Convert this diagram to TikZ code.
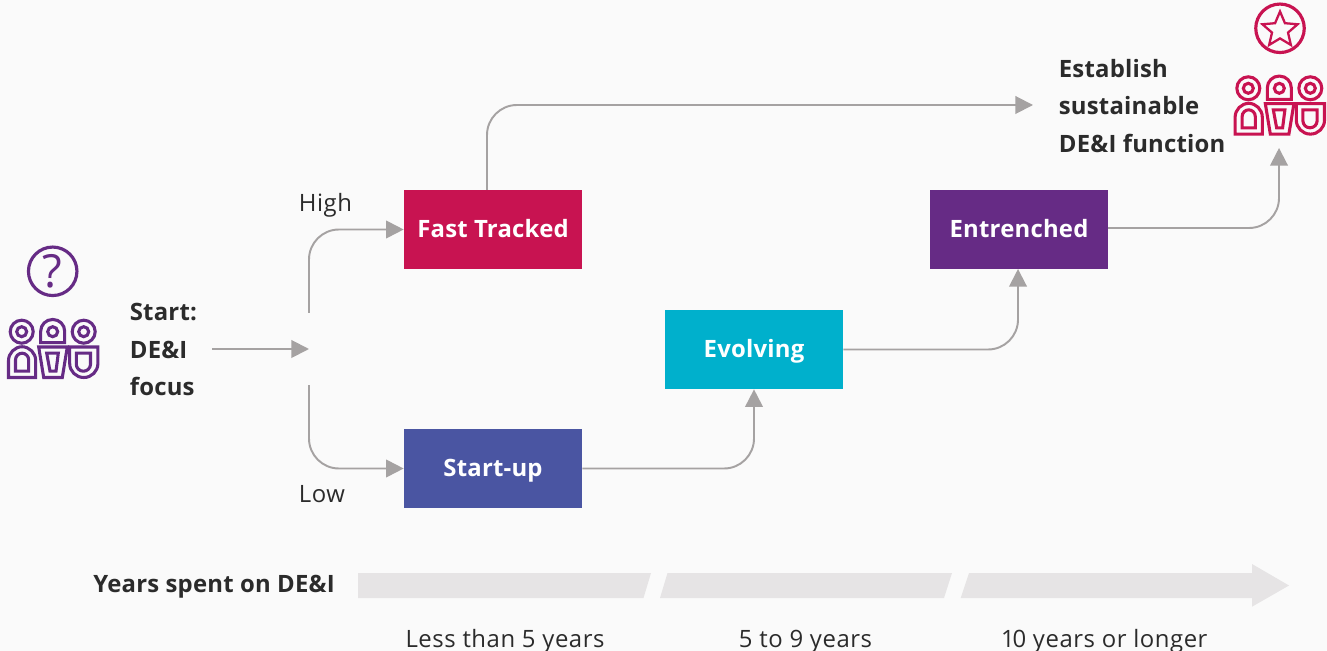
\documentclass[tikz,border=0pt]{standalone}
\usepackage{fontspec}
\setmainfont{Open Sans}[Numbers=Proportional]
\usetikzlibrary{arrows.meta,shapes.geometric}
\definecolor{deipink}{HTML}{C81351}
\definecolor{deipurple}{HTML}{662B85}
\definecolor{deiteal}{HTML}{00B0CC}
\definecolor{deiblue}{HTML}{4A55A2}
\definecolor{deigrey}{HTML}{A5A2A2}
\definecolor{deiband}{HTML}{E6E4E5}
\definecolor{deitext}{HTML}{2B2B2B}
\newcommand{\lblfont}{\fontsize{13.6}{21.26}\selectfont\addfontfeatures{LetterSpace=2.3}}
\newcommand{\boldlbl}{\fontsize{13.6}{21.26}\selectfont\bfseries\addfontfeatures{LetterSpace=0.9}}
\tikzset{
 box/.style={minimum width=3.56cm,minimum height=1.58cm,inner sep=0,text=white,text height=9.5pt,text depth=0pt,font=\boldlbl},
 lbl/.style={inner sep=0,text=deitext,text height=10pt,text depth=0pt,font=\lblfont},
 head/.style={inner sep=0,text=deitext,align=left,font=\boldlbl},
 flow/.style={draw=deigrey,line width=1.1pt,-{Triangle[length=10pt,width=10pt]}},
 band/.style={fill=deiband},
 badge/.style={circle,draw=#1,line width=1.8pt,minimum size=0.97cm,inner sep=0},
 pics/team/.style={code={
  \begin{scope}[draw=#1,line width=1.75pt]
  \foreach \hx in {-31,0,31} \draw (\hx,0) circle (0.1cm);
  \draw (-31,0) circle (0.23cm);
  \draw (31,0) circle (0.23cm);
  \draw (-12,11) {[rounded corners=0.235cm] -- (-12,-12.2) -- (12,-12.2)} -- (12,11) -- cycle;
  \draw (-44.2,45.8) {[rounded corners=0.28cm] -- (-44.2,15) -- (-17,15)} -- (-17,45.8) -- cycle;
  \draw (-37.2,39.5) {[rounded corners=0.135cm] -- (-37.2,21.5) -- (-24,21.5)} -- (-24,39.5) -- cycle;
  \draw (-14,15.3) -- (14.6,15.3) -- (9.6,45.8) -- (-9,45.8) -- cycle;
  \draw (-6,21.5) -- (5.6,21.5) -- (3.3,39.5) -- (-2.7,39.5) -- cycle;
  \draw (17,15.3) {[rounded corners=0.28cm] -- (17,45.8) -- (45.2,45.8)} -- (45.2,15.3) -- cycle;
  \draw (23.6,21.5) {[rounded corners=0.14cm] -- (23.6,39.5) -- (37.8,39.5)} -- (37.8,21.5) -- cycle;
  \end{scope}
 }},
}

\begin{document}
\begin{tikzpicture}[x=0.02cm,y=-0.02cm]
 \fill[fill=black!2] (0,0) rectangle (1327,651);

 % start side
 \node[badge=deipurple,text=deipurple,font=\fontsize{26}{26}\selectfont] (ask) at (52.7,271.3) {?};
 \pic (startteam) at (52.7,331.7) {team=deipurple};
 \node[head,anchor=west] (start) at (129.5,349.5) {Start:\\DE\&I\\focus};
 \coordinate (split) at (309,349);
 \coordinate (splitup) at (309,313);
 \coordinate (splitdown) at (309,385);
 \node[lbl,anchor=west] (high) at (298.5,203) {High};
 \node[lbl,anchor=west] (low) at (298.5,494) {Low};

 % stages
 \node[box,fill=deipink] (fast) at (493,229.5) {Fast Tracked};
 \node[box,fill=deiblue] (startup) at (493,468.5) {Start-up};
 \node[box,fill=deiteal] (evolving) at (754,349.5) {Evolving};
 \node[box,fill=deipurple] (entrenched) at (1019,229.5) {Entrenched};

 % end side
 \node[badge=deipink] (prize) at (1280,28.3) {};
 \node[star,star points=5,star point ratio=2.2,draw=deipink,line width=1.3pt,minimum size=0.74cm,inner sep=0] (prizestar) at (1280,30) {};
 \pic (endteam) at (1279.3,88.3) {team=deipink};
 \node[head,anchor=west] (goal) at (1058.5,106) {Establish\\sustainable\\DE\&I function};
 \coordinate (goalin) at (1033,105);
 \coordinate (endin) at (1279,148);
 \coordinate (fastout) at (487,190);
 \coordinate (entrin) at (1018,269);
 \coordinate (entrout) at (1108,228);
 \coordinate (startout) at (212,349);

 \draw[flow] (startout) -- (split);
 \draw[flow,rounded corners=0.6cm] (splitup) |- (fast.west);
 \draw[flow,rounded corners=0.6cm] (splitdown) |- (startup.west);
 \draw[flow,rounded corners=0.6cm] (fastout) |- (goalin);
 \draw[flow,rounded corners=0.6cm] (startup.east) -| (evolving.south);
 \draw[flow,rounded corners=0.6cm] (evolving.east) -| (entrin);
 \draw[flow,rounded corners=0.6cm] (entrout) -| (endin);

 % time band
 \node[head,anchor=base west] (years) at (93,592) {Years spent on DE\&I};
 \fill[band] (358,573) -- (651,573) -- (643.5,598) -- (358,598) -- cycle;
 \fill[band] (667.5,573) -- (952,573) -- (944,598) -- (660,598) -- cycle;
 \fill[band] (969,573) -- (1252,573) -- (1252,564) -- (1289,585.5) -- (1252,606.7) -- (1252,598) -- (960.7,598) -- cycle;
 \node[lbl,anchor=base] (short) at (505,647) {Less than 5 years};
 \node[lbl,anchor=base] (mid) at (805.5,647) {5 to 9 years};
 \node[lbl,anchor=base] (long) at (1105,647) {10 years or longer};
\end{tikzpicture}
\end{document}
